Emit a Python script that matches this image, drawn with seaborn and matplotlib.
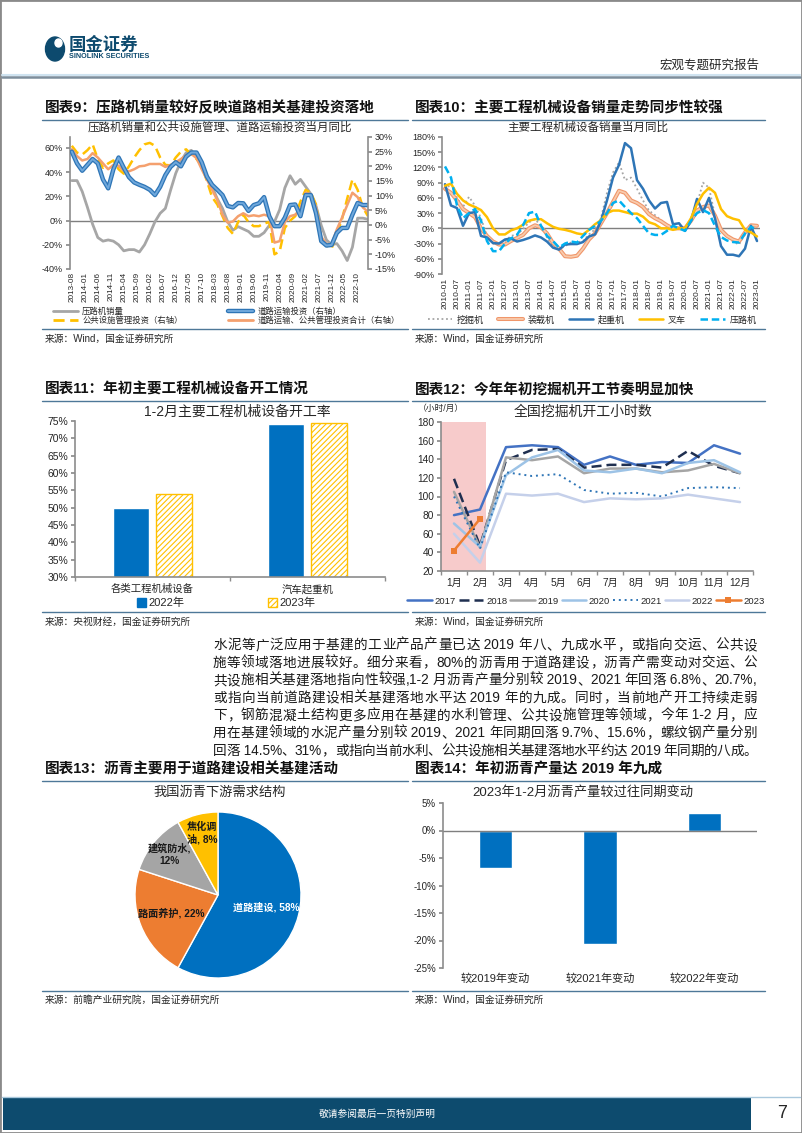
import re
import numpy as np
import pandas as pd
import matplotlib
matplotlib.use("Agg")
import matplotlib.pyplot as plt
import matplotlib.patheffects as pe
from matplotlib.patches import Rectangle, Ellipse, Patch
from matplotlib.lines import Line2D
import seaborn as sns

# ---------------- data ----------------
# Chart 9: bi-monthly readings starting 2013-08
c9_start = '2013-08-01'
c9_roller = [33, 33, 24, 11, -3, -14, -17, -16, -17, -20, -25, -24, -24, -26, -20, -11, -1, 6, 10, 25,
             39, 49, 56, 58, 53, 47, 37, 28, 18, 10, -1, -8, -5, -7, -9, -13, -13, -10, -4, -1,
             9, 27, 37, 30, 34, 28, 22, 12, -4, -16, -20, -19, -25, -33, -22, 2, 2, 1]
c9_road = [25, 21, 18.5, 20.5, 22.5, 21, 15.5, 12.5, 19, 23, 19.5, 16.3, 14.5, 13.7, 13, 12, 10.2, 13, 17, 19.8,
           21.4, 20, 23.3, 24.7, 24.7, 21.4, 16.5, 13.7, 12, 10.2, 6.5, 6, 7.5, 7.4, 4.8, 6.8, 7.4, 9.5, 3, -0.4,
           -0.4, 2.5, 6.8, 7, 3, 10.2, 10.2, 4, -5.5, -7, -6.8, -2.7, -1, -1, 3.5, 7.5, 6.8, 6.8]
c9_public = [27, 24.7, 24, 25.5, 27.5, 22.5, 19.5, 21, 22, 19, 17.5, 20, 23, 25.5, 27.5, 28, 27, 23, 20.5, 20.3,
             23, 25, 25.8, 24, 22.5, 20.2, 15, 9.5, 7, 3, -1, -3, 1, 3.5, 1, -0.4, -0.4, 0.5, 1, -10,
             -9, -1, 1.5, 3, 8, 12, 11, 7, -5, -7, -8, -3, 2, 9, 15.5, 12, 6, 3]
c9_total = [25.8, 23.5, 22, 22.5, 24.5, 23, 21, 19, 20.5, 20.2, 18.5, 18.3, 19, 20, 20.2, 20.8, 20.8, 20.8, 19.8, 20.5,
            21.4, 22.5, 23.8, 24.2, 22.8, 19, 15.5, 12, 8.5, 3.5, 0.8, 1.2, 3, 4, 3, 3.3, 3, 3.5, 3, -6,
            -5.5, 1, 3, 3.5, 5.5, 11, 10.5, 6, -4, -6.5, -6.5, -1.5, 2.5, 6.8, 11, 9.5, 6, 4.5]
c9_tick_labels = ['2013-08', '2014-01', '2014-06', '2014-11', '2015-04', '2015-09', '2016-02', '2016-07',
                  '2016-12', '2017-05', '2017-10', '2018-03', '2018-08', '2019-01', '2019-06', '2019-11',
                  '2020-04', '2020-09', '2021-02', '2021-07', '2021-12', '2022-05', '2022-10']
c9_names = ['压路机销量', '公共设施管理投资（右轴）', '道路运输投资（右轴）', '道路运输、公共管理投资合计（右轴）']

# Chart 10: quarterly readings starting 2010-01
c10_start = '2010-01-01'
c10_excavator = [75, 88, 60, 42, 62, 45, 20, -15, -30, -32, -25, -15, -12, -2, 12, 18, 5, -18, -36, -42,
                 -35, -28, -28, -25, -12, -2, 20, 70, 110, 130, 95, 100, 78, 55, 35, 26, 16, 5, 2, 0,
                 -2, 15, 48, 90, 80, 25, -6, -15, -26, -32, -12, -3, -16]
c10_loader = [78, 70, 55, 38, 30, 22, 0, -15, -26, -32, -32, -25, -19, -13, 0, 6, 2, -10, -29, -40,
              -55, -56, -54, -40, -22, -10, 10, 30, 52, 74, 70, 55, 50, 42, 28, 20, 14, 6, 0, 0,
              0, 15, 35, 42, 45, 25, -3, -15, -22, -26, -8, 6, 5]
c10_crane = [87, 45, 40, 5, 30, 32, -15, -18, -29, -30, -22, -20, -26, -23, -19, -14, -18, -26, -38, -42,
             -32, -31, -31, -27, -16, -12, 15, 55, 100, 125, 168, 158, 95, 78, 55, 39, 50, 52, 8, 10,
             -5, 15, 58, 32, 60, 20, -35, -52, -52, -55, -40, 5, -25]
c10_forklift = [84, 88, 68, 55, 47, 42, 36, 22, 0, -12, -12, -4, 0, 7, 15, 18, 18, 10, 3, -1,
                -3, -6, -10, -12, -3, 8, 16, 30, 35, 35, 32, 29, 29, 23, 12, 8, 0, 0, -3, 0,
                0, 20, 48, 68, 80, 70, 38, 24, 19, 16, -3, -8, -16]
c10_roller = [122, 100, 45, 20, 30, 38, 15, -25, -45, -45, -30, -20, -13, 6, 30, 33, 5, -15, -25, -38,
              -30, -26, -28, -15, -3, 5, 15, 30, 50, 55, 42, 30, 20, 5, -10, -13, -13, -5, 5, 0,
              -5, 15, 30, 36, 30, 5, -17, -24, -27, -28, -10, 3, -3]
c10_tick_labels = [f'{y}-{m:02d}' for y in range(2010, 2024) for m in (1, 7)][:-1]
c10_names = ['挖掘机', '装载机', '起重机', '叉车', '压路机']

# Chart 11
c11_categories = ['各类工程机械设备', '汽车起重机']
c11_years = ['2022年', '2023年']
c11_2022 = [50, 74]
c11_2023 = [54, 74.5]

# Chart 12
c12_months = ['1月', '2月', '3月', '4月', '5月', '6月', '7月', '8月', '9月', '10月', '11月', '12月']
c12_2017 = [80, 86, 153, 155, 153, 134, 143, 134, 137, 136, 155, 146]
c12_2018 = [119, 47, 139, 150, 151, 131, 134, 134, 131, 149, 133, 125]
c12_2019 = [105, 45, 142, 139, 143, 125, 130, 130, 126, 128, 135, 125]
c12_2020 = [71, 46, 123, 142, 150, 128, 126, 130, 125, 136, 139, 126]
c12_2021 = [100, 44, 126, 122, 124, 107, 103, 104, 100, 109, 110, 109]
c12_2022 = [60, 29, 103, 101, 103, 94, 98, 97, 98, 102, 98, 94]
c12_2023 = [42, 76]
c12_shade_end = 1.22   # highlighted early-year window (in month-category units)

# Chart 13
c13_names = ['道路建设', '路面养护', '建筑防水', '焦化调\n油']
c13_values = [58, 22, 12, 8]
c13_sep = [', ', ', ', ',\n', ', ']

# Chart 14
c14_categories = ['较2019年变动', '较2021年变动', '较2022年变动']
c14_values = [-6.8, -20.7, 3.2]

paragraph = [
    '水泥等广泛应用于基建的工业产品产量已达 2019 年八、九成水平，或指向交运、公共设',
    '施等领域落地进展较好。细分来看，80%的沥青用于道路建设，沥青产需变动对交运、公',
    '共设施相关基建落地指向性较强,1-2 月沥青产量分别较 2019、2021 年回落 6.8%、20.7%,',
    '或指向当前道路建设相关基建落地水平达 2019 年的九成。同时，当前地产开工持续走弱',
    '下，钢筋混凝土结构更多应用在基建的水利管理、公共设施管理等领域，今年 1-2 月，应',
    '用在基建领域的水泥产量分别较 2019、2021 年同期回落 9.7%、15.6%，螺纹钢产量分别',
    '回落 14.5%、31%，或指向当前水利、公共设施相关基建落地水平约达 2019 年同期的八成。',
]

# ---------------- setup ----------------
W, H = 802, 1133
sns.set_theme(style="white")
plt.rcParams['font.family'] = ['Liberation Sans', 'Noto Sans CJK SC', 'DejaVu Sans']
plt.rcParams['axes.unicode_minus'] = False
plt.rcParams['hatch.linewidth'] = 0.8

fig = plt.figure(figsize=(W / 100, H / 100), dpi=100)
fig.patch.set_facecolor('white')
renderer = fig.canvas.get_renderer()

TXT = '#262626'
AXC = '#8C8C8C'
SEP = '#4E7898'


def px_axes(l, t, r, b):
    return fig.add_axes([l / W, 1 - b / H, (r - l) / W, (b - t) / H])


def ftext(x, y, s, **kw):
    kw.setdefault('va', 'center')
    kw.setdefault('color', TXT)
    return fig.text(x / W, 1 - y / H, s, **kw)


def fline(x0, x1, y, color=SEP, lw=1.0):
    fig.add_artist(Line2D([x0 / W, x1 / W], [1 - y / H, 1 - y / H], color=color, lw=lw))


def justified(x0, x1, y, s, **kw):
    tokens = re.findall(r' ?[A-Za-z0-9.%\-]+ ?|.', s)
    arts, widths = [], []
    for tok in tokens:
        t = ftext(x0, y, tok, ha='left', **kw)
        arts.append(t)
        widths.append(t.get_window_extent(renderer).width)
    gap = (x1 - x0 - sum(widths)) / max(len(tokens) - 1, 1)
    x = x0
    for t, w in zip(arts, widths):
        t.set_x(x / W)
        x += w + gap


def clean(ax, left=False, right=False, bottom=False):
    for s in ['top', 'right', 'left', 'bottom']:
        ax.spines[s].set_visible(False)
    for s, on in (('left', left), ('right', right), ('bottom', bottom)):
        if on:
            ax.spines[s].set_visible(True)
            ax.spines[s].set_color(AXC)
            ax.spines[s].set_linewidth(1.2)
    ax.set_facecolor('none')
    ax.grid(False)
    ax.set_xlabel('')
    ax.set_ylabel('')


def month_index(dates, y0, m0):
    return (dates.year - y0) * 12 + dates.month - m0


def pct(v):
    return f'{v:.0f}%'


def one_legend(handle, label, x, y, fs):
    fig.legend([handle], [label], loc='center left', bbox_to_anchor=(x / W, 1 - y / H), frameon=False,
               fontsize=fs, handlelength=3.0, handletextpad=0.5, borderaxespad=0, borderpad=0)


# ---------------- header / footer ----------------
fig.add_artist(Rectangle((0, 0), 1, 1, transform=fig.transFigure, fill=False, ec='#8A8A8A', lw=2))
fig.add_artist(Ellipse((55 / W, 1 - 49 / H), 19 / W, 24 / H, color='#0D4A6E', transform=fig.transFigure))
fig.add_artist(Ellipse((58.5 / W, 1 - 43 / H), 7 / W, 8 / H, color='white', transform=fig.transFigure))
ftext(69, 44, '国金证券', fontsize=12.5, fontweight='bold', color='#0D4A6E')
ftext(69, 57, 'SINOLINK SECURITIES', fontsize=5.2, fontweight='bold', color='#0D4A6E')
ftext(760, 65, '宏观专题研究报告', fontsize=9, ha='right')
fline(2, 800, 74.5, '#CFE3F0', 1.5)
fline(2, 800, 76.5, '#7D8E9C', 1.8)

fline(2, 800, 1096.5, '#A9C8DC', 1.0)
fig.add_artist(Rectangle((3 / W, 1 - 1130 / H), (751 - 3) / W, 32 / H, transform=fig.transFigure,
                         color='#0D4B6E', lw=0))
ftext(377, 1114, '敬请参阅最后一页特别声明', fontsize=7, color='white', ha='center')
ftext(782, 1113, '7', fontsize=13, ha='center')

# ---------------- Chart 9 ----------------
ftext(45, 108, '图表9：压路机销量较好反映道路相关基建投资落地', fontsize=10.5, fontweight='bold', color='#111111')
fline(42, 408, 119.5)
ftext(220, 128, '压路机销量和公共设施管理、道路运输投资当月同比', fontsize=8.3, ha='center')

d9 = pd.date_range(c9_start, periods=len(c9_roller), freq='2MS')
x9 = month_index(d9, 2013, 8)
t9 = month_index(pd.to_datetime(c9_tick_labels), 2013, 8)

ax9 = px_axes(70, 137, 368, 269)
sns.lineplot(x=x9, y=c9_roller, ax=ax9, color='#A6A6A6', lw=2.0)
ax9.axhline(0, color='#7F7F7F', lw=1.0, zorder=1)
ax9.set_ylim(-40, 69)
ax9.set_xlim(-0.7, 114)
ax9.set_yticks([-40, -20, 0, 20, 40, 60])
ax9.set_yticklabels([pct(v) for v in [-40, -20, 0, 20, 40, 60]])
ax9.set_xticks(t9)
ax9.set_xticklabels(c9_tick_labels, rotation=90)
clean(ax9, left=True)
ax9.tick_params(axis='y', labelsize=6.5, length=3, color=AXC, pad=2, labelcolor=TXT, left=True)
ax9.tick_params(axis='x', labelsize=5.9, length=0, pad=2, labelcolor=TXT)

ax9b = ax9.twinx()
sns.lineplot(x=x9, y=c9_public, ax=ax9b, color='#FFC000', lw=1.8, linestyle=(0, (4, 2)))
sns.lineplot(x=x9, y=c9_total, ax=ax9b, color='#F4A06E', lw=1.8)
sns.lineplot(x=x9, y=c9_road, ax=ax9b, color='#6FA8DC', lw=1.4)
blue_fx = [pe.Stroke(linewidth=3.2, foreground='#2E75B6'), pe.Normal()]
ax9b.lines[-1].set_path_effects(blue_fx)
ax9b.set_ylim(-15, 30)
ax9b.set_xlim(-0.7, 114)
ax9b.set_yticks(range(-15, 31, 5))
ax9b.set_yticklabels([pct(v) for v in range(-15, 31, 5)])
clean(ax9b, right=True)
ax9b.tick_params(axis='y', labelsize=6.5, length=3, color=AXC, pad=2, labelcolor=TXT, right=True)

h_gray = Line2D([], [], color='#A6A6A6', lw=2)
h_yel = Line2D([], [], color='#FFC000', lw=2, linestyle=(0, (4, 2)))
h_blue = Line2D([], [], color='#6FA8DC', lw=1.4, path_effects=blue_fx)
h_org = Line2D([], [], color='#F4A06E', lw=2)
one_legend(h_gray, c9_names[0], 53, 312, 6)
one_legend(h_yel, c9_names[1], 53, 321, 6)
one_legend(h_blue, c9_names[2], 228, 312, 6)
one_legend(h_org, c9_names[3], 228, 321, 6)

fline(42, 408, 329)
ftext(45, 339, '来源：Wind，国金证券研究所', fontsize=7)

# ---------------- Chart 10 ----------------
ftext(415, 108, '图表10：主要工程机械设备销量走势同步性较强', fontsize=10.5, fontweight='bold', color='#111111')
fline(412, 765, 119.5)
ftext(588, 128, '主要工程机械设备销量当月同比', fontsize=8.3, ha='center')

d10 = pd.date_range(c10_start, periods=len(c10_crane), freq='3MS')
x10 = month_index(d10, 2010, 1)
t10 = month_index(pd.to_datetime(c10_tick_labels), 2010, 1)

ax10 = px_axes(442, 137, 760, 274)
ax10.axhline(0, color='#7F7F7F', lw=1.0, zorder=1)
c10_styles = [
    dict(color='#A5A5A5', lw=1.3, linestyle=(0, (1, 1.5))),
    dict(color='#F8CBAD', lw=1.3),
    dict(color='#2E75B6', lw=1.8),
    dict(color='#FFC000', lw=1.8),
    dict(color='#00B0F0', lw=1.8, linestyle=(0, (3, 1.5))),
]
loader_fx = [pe.Stroke(linewidth=2.9, foreground='#F0966A'), pe.Normal()]
for vals, st in zip([c10_excavator, c10_loader, c10_crane, c10_forklift, c10_roller], c10_styles):
    sns.lineplot(x=x10, y=vals, ax=ax10, **st)
ax10.lines[2].set_path_effects(loader_fx)
ax10.set_ylim(-90, 180)
ax10.set_xlim(-1.5, 157.5)
ax10.set_yticks(range(-90, 181, 30))
ax10.set_yticklabels([pct(v) for v in range(-90, 181, 30)])
ax10.set_xticks(t10)
ax10.set_xticklabels(c10_tick_labels, rotation=90)
clean(ax10, left=True)
ax10.tick_params(axis='y', labelsize=6.5, length=3, color=AXC, pad=2, labelcolor=TXT, left=True)
ax10.tick_params(axis='x', labelsize=6.0, length=0, pad=3, labelcolor=TXT)

h10 = []
for i, st in enumerate(c10_styles):
    h = Line2D([], [], **st)
    if i == 1:
        h.set_path_effects(loader_fx)
    h10.append(h)
fig.legend(h10, c10_names, loc='center left', bbox_to_anchor=(428 / W, 1 - 320 / H), ncol=5,
           frameon=False, fontsize=6.5, handlelength=2.7, handletextpad=0.5, columnspacing=1.6,
           borderaxespad=0, borderpad=0)

fline(412, 765, 329)
ftext(415, 339, '来源：Wind，国金证券研究所', fontsize=7)

# ---------------- Chart 11 ----------------
ftext(45, 390, '图表11：年初主要工程机械设备开工情况', fontsize=10.5, fontweight='bold', color='#111111')
fline(42, 408, 401)
ftext(237, 412, '1-2月主要工程机械设备开工率', fontsize=10, ha='center')

df11 = pd.DataFrame({
    'cat': c11_categories * 2,
    'year': [c11_years[0]] * 2 + [c11_years[1]] * 2,
    'val': c11_2022 + c11_2023,
})
ax11 = px_axes(75, 421, 385, 577)
sns.barplot(data=df11, x='cat', y='val', hue='year', ax=ax11, palette=['#0070C0', '#FFC000'],
            width=0.55, gap=0.16, legend=False, saturation=1)
for p in ax11.patches[2:4]:
    p.set_facecolor('white')
    p.set_edgecolor('#FFC000')
    p.set_hatch('//////')
    p.set_linewidth(1.0)
ax11.set_ylim(30, 75)
ax11.set_xlim(-0.5, 1.5)
ax11.set_yticks(range(30, 76, 5))
ax11.set_yticklabels([pct(v) for v in range(30, 76, 5)])
clean(ax11, left=True, bottom=True)
ax11.set_xticks([-0.5, 0.5, 1.5], minor=True)
ax11.tick_params(axis='y', labelsize=7.5, length=3, color=AXC, pad=2, labelcolor=TXT, left=True)
ax11.tick_params(axis='x', which='major', labelsize=7.5, length=0, pad=5, labelcolor=TXT)
ax11.tick_params(axis='x', which='minor', length=3, color=AXC, bottom=True)

p22 = Patch(facecolor='#0070C0', edgecolor='#0070C0')
p23 = Patch(facecolor='white', edgecolor='#FFC000', hatch='//////')
lk = dict(frameon=False, fontsize=8, handlelength=0.8, handleheight=0.8, handletextpad=0.2,
          borderaxespad=0, borderpad=0)
fig.legend([p22], [c11_years[0]], loc='center left', bbox_to_anchor=(137 / W, 1 - 603 / H), **lk)
fig.legend([p23], [c11_years[1]], loc='center left', bbox_to_anchor=(268 / W, 1 - 603 / H), **lk)

fline(42, 408, 612)
ftext(45, 622, '来源：央视财经，国金证券研究所', fontsize=7)

# ---------------- Chart 12 ----------------
ftext(415, 390, '图表12：今年年初挖掘机开工节奏明显加快', fontsize=10.5, fontweight='bold', color='#111111')
fline(412, 765, 401)
ftext(583, 412, '全国挖掘机开工小时数', fontsize=10, ha='center')
ftext(418, 408, '（小时/月）', fontsize=6.3)

ax12 = px_axes(441, 422, 753, 571)
ax12.axvspan(-0.5, c12_shade_end, color='#F7CBCB', lw=0, zorder=0)
c12_series = [
    ('2017', c12_2017, dict(color='#4472C4', lw=1.8)),
    ('2018', c12_2018, dict(color='#1F2F50', lw=1.8, linestyle=(0, (4, 2)))),
    ('2019', c12_2019, dict(color='#A5A5A5', lw=1.8)),
    ('2020', c12_2020, dict(color='#9DC3E6', lw=1.8)),
    ('2021', c12_2021, dict(color='#2E75B6', lw=1.4, linestyle=(0, (1, 2)))),
    ('2022', c12_2022, dict(color='#C5D0EA', lw=1.8)),
    ('2023', c12_2023, dict(color='#ED7D31', lw=1.8, marker='s', markersize=4.5, markeredgewidth=0)),
]
h12 = []
for name, vals, st in c12_series:
    sns.lineplot(x=list(range(len(vals))), y=vals, ax=ax12, **st)
    h12.append(Line2D([], [], **st))
ax12.set_ylim(20, 180)
ax12.set_xlim(-0.5, 11.5)
ax12.set_yticks(range(20, 181, 20))
ax12.set_xticks(range(12))
ax12.set_xticklabels(c12_months)
ax12.set_xticks(np.arange(-0.5, 12, 1), minor=True)
clean(ax12, left=True, bottom=True)
ax12.tick_params(axis='y', labelsize=7.3, length=3, color=AXC, pad=2, labelcolor=TXT, left=True)
ax12.tick_params(axis='x', which='major', labelsize=7.3, length=0, pad=5, labelcolor=TXT)
ax12.tick_params(axis='x', which='minor', length=3, color=AXC, bottom=True)
fig.legend(h12, [s[0] for s in c12_series], loc='center', bbox_to_anchor=(586 / W, 1 - 601 / H), ncol=7,
           frameon=False, fontsize=6.8, handlelength=2.6, handletextpad=0.3, columnspacing=0.3,
           borderaxespad=0, borderpad=0)

fline(412, 765, 612)
ftext(415, 622, '来源：Wind，国金证券研究所', fontsize=7)

# ---------------- paragraph (justified) ----------------
for i, line in enumerate(paragraph):
    justified(213, 757, 645 + 17.6 * i, line, fontsize=9.8, color='#1A1A1A')

# ---------------- Chart 13 ----------------
ftext(45, 769, '图表13：沥青主要用于道路建设相关基建活动', fontsize=10.5, fontweight='bold', color='#111111')
fline(42, 408, 781)
ftext(220, 792, '我国沥青下游需求结构', fontsize=9.5, ha='center')

ax13 = px_axes(135, 812, 301, 978)
c13_colors = ['#0070C0', '#ED7D31', '#A5A5A5', '#FFC000']
ax13.pie(c13_values, colors=c13_colors, startangle=90, counterclock=False, radius=1,
         wedgeprops=dict(edgecolor='white', linewidth=1.0))
ax13.set_xlim(-1, 1)
ax13.set_ylim(-1, 1)
ax13.set_aspect('equal')
ax13.axis('off')
c13_dist = [0.60, 0.60, 0.76, 0.77]
cum = np.cumsum([0] + c13_values)
for i, (nm, v) in enumerate(zip(c13_names, c13_values)):
    mid = np.deg2rad(90 - 3.6 * (cum[i] + v / 2))
    ax13.text(c13_dist[i] * np.cos(mid), c13_dist[i] * np.sin(mid), f'{nm}{c13_sep[i]}{v}%',
              ha='center', va='center', fontsize=7.3, fontweight='bold',
              color='white' if i == 0 else '#1A1A1A', linespacing=1.3)

fline(42, 408, 991)
ftext(45, 1000, '来源：前瞻产业研究院，国金证券研究所', fontsize=7)

# ---------------- Chart 14 ----------------
ftext(415, 769, '图表14：年初沥青产量达 2019 年九成', fontsize=10.5, fontweight='bold', color='#111111')
fline(412, 765, 781)
ftext(583, 792, '2023年1-2月沥青产量较过往同期变动', fontsize=9.5, ha='center')

ax14 = px_axes(443, 803, 757, 968)
sns.barplot(x=c14_categories, y=c14_values, ax=ax14, color='#0070C0', width=0.32, saturation=1)
ax14.axhline(0, color='#7F7F7F', lw=1.0, zorder=1)
ax14.set_ylim(-25, 5)
ax14.set_xlim(-0.5, 2.5)
ax14.set_yticks(range(-25, 6, 5))
ax14.set_yticklabels([pct(v) for v in range(-25, 6, 5)])
clean(ax14, left=True)
ax14.tick_params(axis='y', labelsize=7, length=3, color=AXC, pad=2, labelcolor=TXT, left=True)
ax14.tick_params(axis='x', labelsize=8, length=0, pad=4, labelcolor=TXT)

fline(412, 765, 991)
ftext(415, 1000, '来源：Wind，国金证券研究所', fontsize=7)

fig.savefig('out.png', dpi=100)
